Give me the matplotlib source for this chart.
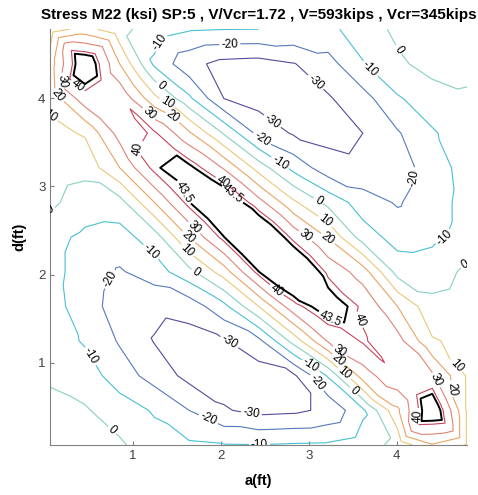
import numpy as np
import matplotlib.pyplot as plt
import matplotlib.tri as mtri

plt.rcParams['font.family'] = ['Liberation Sans', 'DejaVu Sans']

# sample positions (ft)
a_ft = [0.06, 0.455, 0.85, 1.245, 1.64, 2.035, 2.43, 2.825, 3.22, 3.615, 4.01, 4.405, 4.80]
d_ft = [0.07, 0.4625, 0.855, 1.2475, 1.64, 2.0325, 2.425, 2.8175, 3.21, 3.6025, 3.995, 4.3875, 4.78]

# M22 stress (ksi) at the grid nodes, first row is the lowest d
m22 = [
    [6, 4, 1.5, -6, -8.5, -9.5, -9.8, -9, -8.5, -5, 3, 19, 9],
    [3, 1, -5, -11, -20, -29, -33, -32, -28, -12, 18, 54, 9],
    [-1.5, -5, -15, -24, -33, -35, -35, -32, -9, 25, 38.5, 32, 9],
    [-5, -11, -21, -30.5, -34, -31, -23, 3.6, 31, 41, 34, 11, 7],
    [-6, -15, -25, -28, -26, -13, 10, 36.4, 50, 38.5, 20, 3, 5],
    [-7, -14, -21, -15, -3, 15, 43.3, 60, 38, 25, -4, -5, 2],
    [-7, -12, -14, -5, 20.5, 43.3, 60, 37.5, 19, -5, -14, -12, -7],
    [2, -5, -4, 20, 43.3, 55, 34, 12, -3, -15, -21, -14, -7],
    [5, 3, 20, 43, 46, 29, 5.7, -13, -26, -28, -25, -15, -6],
    [7, 11, 34, 41.5, 21.5, -1, -23, -31, -33, -30, -21, -11, -5],
    [13, 36, 38.5, 13, -8, -30, -34, -35, -31, -24, -11, -5, -1.5],
    [15, 54, 20, -12, -27, -33, -34, -30.5, -24, -10.5, -2, 4, 3],
    [5, 14, 3, -5, -9, -9.8, -10, -11, -12, -6, 2.5, 4, 6],
]

# extra samples at the middle of the cells along the diagonal ridge
ridge_mid = [36, 39, 41, 42.5, 50, 60, 60, 58, 43, 40.5, 38.5, 35]        # cells i+j = 11
lower_mid = [38, 33, 40, 42.5, 42.6, 43.0, 40.6, 33, 28.5, 25, 37]        # cells i+j = 10
upper_mid = [30, 15, 20, 26, 32, 37, 39, 37.5, 37, 36, 22]                # cells i+j = 12, i = 1..11

levels = [-30, -20, -10, 0, 10, 20, 30, 40, 43.5]
level_colors = ['#56489a', '#5479bb', '#47bfd4', '#88d0c0',
                '#eac87a', '#eaa362', '#df8274', '#c6445c', '#000000']
level_widths = [0.8] * 8 + [1.4]

# where the inline labels sit (a, d)
label_spots = {
    -30: [(2.53, 3.66), (3.07, 4.17), (2.10, 1.24), (2.33, 0.32)],
    -20: [(2.10, 4.66), (2.47, 3.54), (4.18, 3.10), (0.70, 1.97), (1.84, 0.32), (3.09, 0.77)],
    -10: [(1.34, 4.62), (3.67, 4.30), (2.67, 3.26), (4.52, 2.46), (1.19, 2.24), (0.51, 1.07),
          (3.03, 0.98), (2.44, 0.08)],
    0: [(4.00, 4.53), (1.31, 4.13), (3.09, 2.80), (4.74, 2.18), (0.08, 2.64), (1.73, 2.05),
        (0.82, 0.30), (3.50, 0.67)],
    10: [(1.38, 3.93), (0.11, 3.87), (3.18, 2.59), (1.61, 2.27), (3.41, 0.89), (4.69, 0.98)],
    20: [(0.19, 4.08), (1.44, 3.77), (3.22, 2.41), (1.63, 2.42), (3.32, 1.01), (4.58, 0.70)],
    30: [(0.17, 4.19), (1.21, 3.85), (2.98, 2.46), (1.67, 2.50), (3.35, 1.12), (4.49, 0.83)],
    40: [(0.38, 4.15), (1.04, 3.44), (2.05, 3.09), (2.63, 1.82), (3.66, 1.52), (4.28, 0.39)],
    43.5: [(2.10, 2.87), (1.56, 2.92), (3.26, 1.57)],
}

# build the triangulation: grid nodes plus the mid-cell samples
nx, ny = len(a_ft), len(d_ft)
xs = [a for d in d_ft for a in a_ft]
ys = [d for d in d_ft for a in a_ft]
zs = [v for row in m22 for v in row]

mids = {}
for i, v in enumerate(ridge_mid):
    mids[(i, 11 - i)] = v
for i, v in enumerate(lower_mid):
    mids[(i, 10 - i)] = v
for i, v in enumerate(upper_mid, start=1):
    mids[(i, 12 - i)] = v

tris = []
for j in range(ny - 1):
    for i in range(nx - 1):
        bl, br = j * nx + i, j * nx + i + 1
        tl, tr = bl + nx, br + nx
        if (i, j) in mids:
            c = len(xs)
            xs.append((a_ft[i] + a_ft[i + 1]) / 2)
            ys.append((d_ft[j] + d_ft[j + 1]) / 2)
            zs.append(mids[(i, j)])
            tris += [[bl, br, c], [br, tr, c], [tr, tl, c], [tl, bl, c]]
        else:
            tris += [[bl, br, tl], [br, tr, tl]]

tri = mtri.Triangulation(xs, ys, tris)
zs = np.array(zs, dtype=float)

fig = plt.figure(figsize=(4.78, 4.95), dpi=100)
ax = fig.add_axes([0.105, 0.101, 0.872, 0.840])

fmt = lambda v: f'{v:g}'
for lev, col, lw in zip(levels, level_colors, level_widths):
    cs = ax.tricontour(tri, zs, levels=[lev], colors=[col], linewidths=lw, linestyles='solid')
    cs.clabel(manual=label_spots[lev], fontsize=8.5, colors='k', fmt=fmt,
              inline=True, inline_spacing=2)

ax.set_xlim(0.06, 4.80)
ax.set_ylim(0.07, 4.78)
ax.set_xticks([1, 2, 3, 4])
ax.set_yticks([1, 2, 3, 4])
for side in ['top', 'right']:
    ax.spines[side].set_visible(False)
for side in ['left', 'bottom']:
    ax.spines[side].set_color('#808080')
ax.tick_params(direction='in', length=3, color='#808080', labelcolor='#404040', labelsize=9.5)

ax.set_xlabel('a(ft)', fontweight='bold', fontsize=10.5, labelpad=9)
ax.set_ylabel('d(ft)', fontweight='bold', fontsize=10.5, labelpad=8)
ax.set_title('Stress M22 (ksi) SP:5 , V/Vcr=1.72 , V=593kips , Vcr=345kips',
             fontweight='bold', fontsize=11, pad=7)

fig.savefig('out.png', dpi=100)
